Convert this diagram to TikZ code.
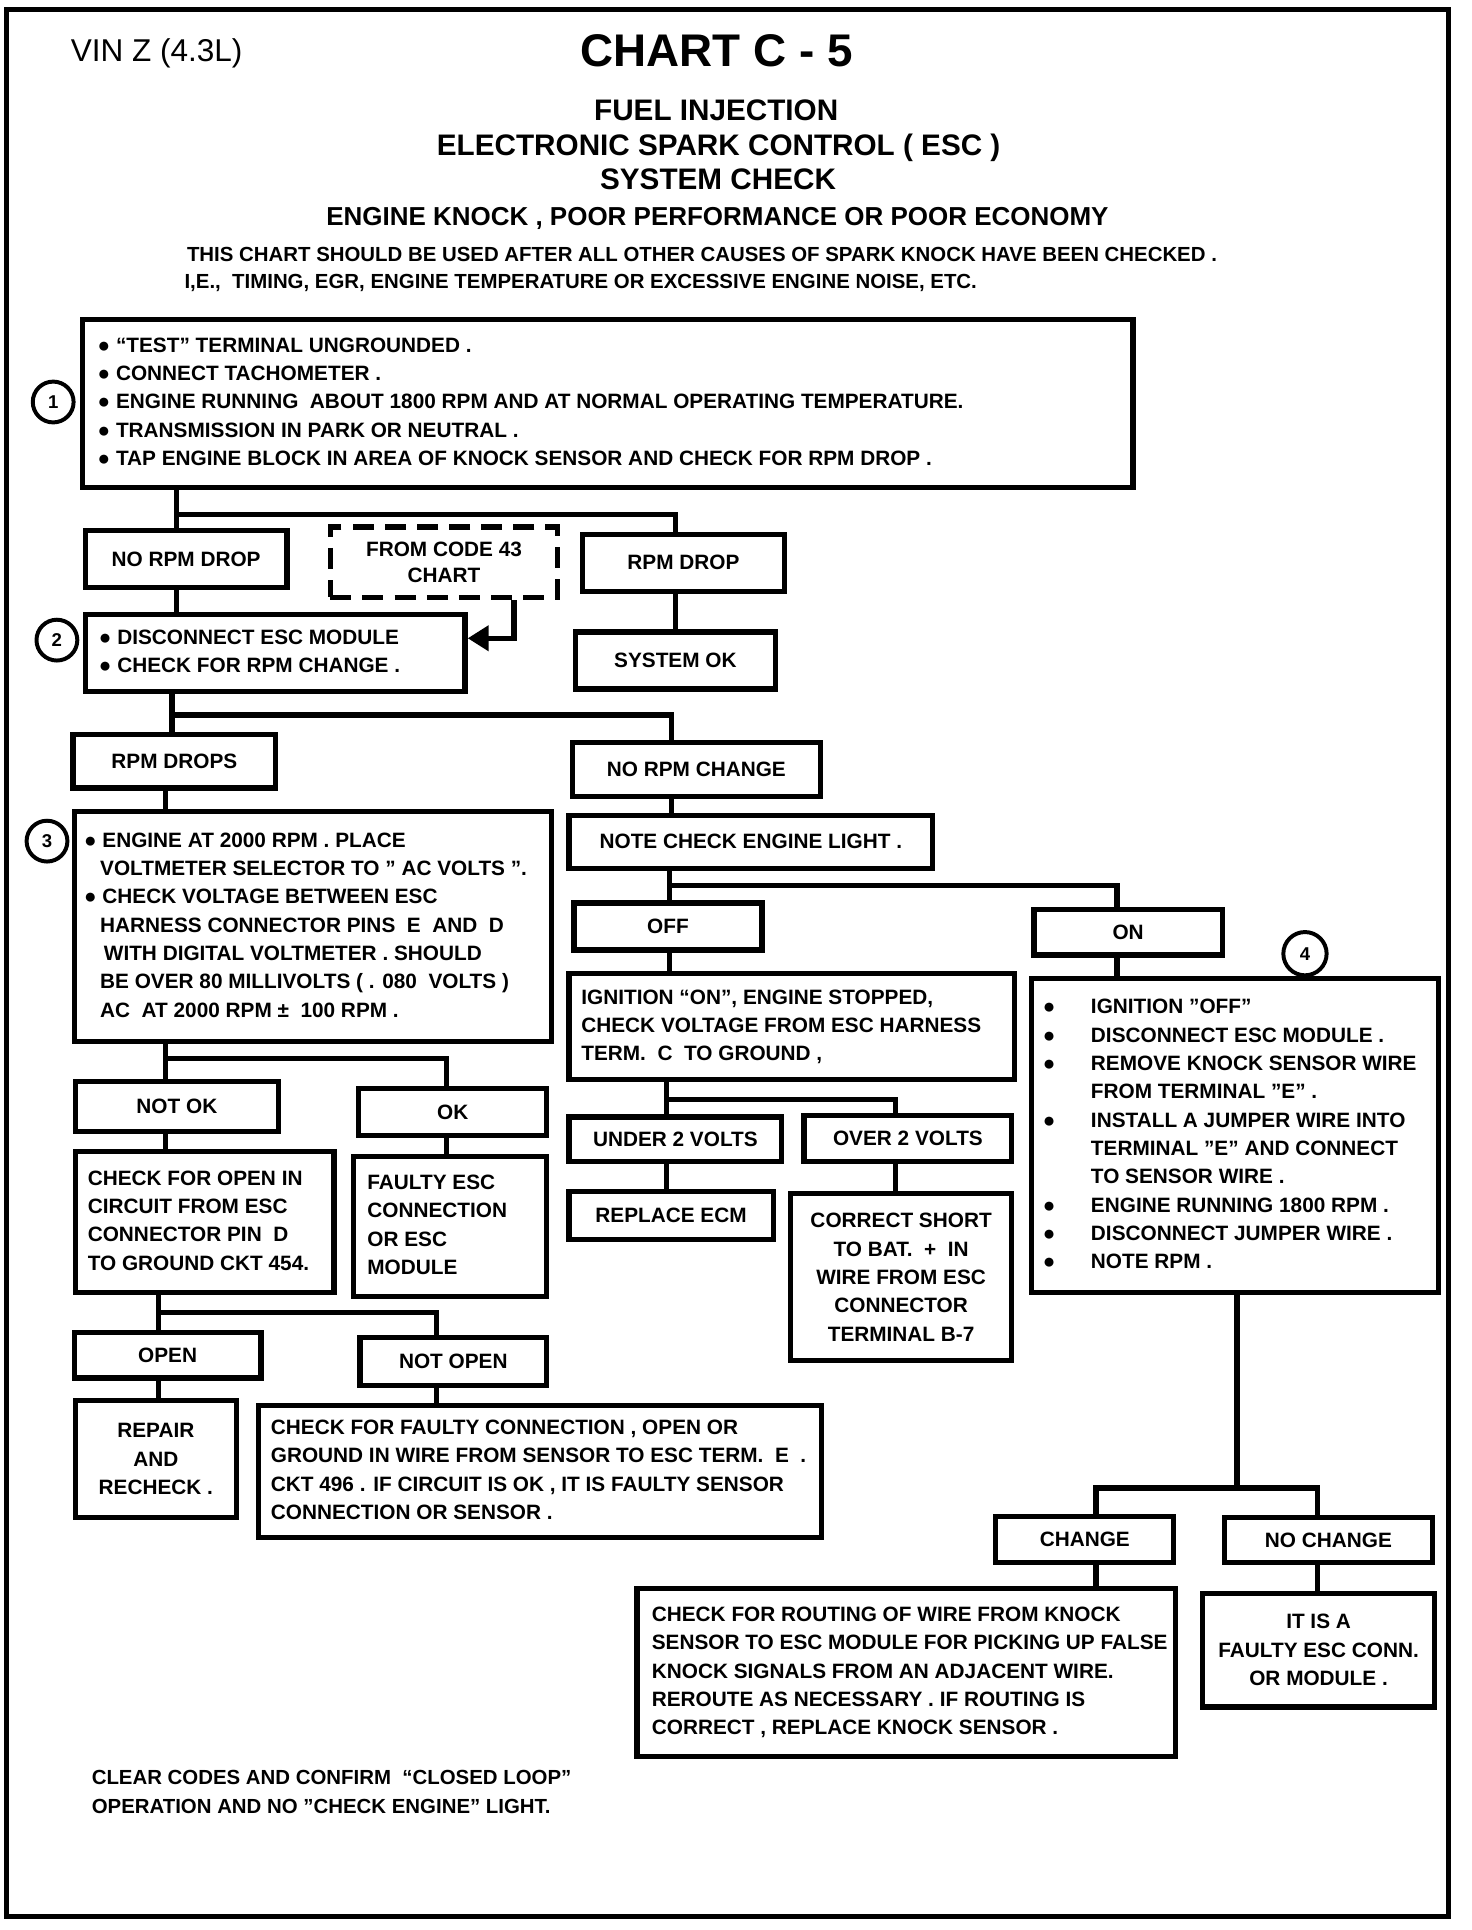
\documentclass[tikz,border=0pt]{standalone}
\usepackage{fontspec}
\setmainfont{Liberation Sans}
\usetikzlibrary{arrows.meta}
\newcommand\bxfont{\bfseries\fontsize{16.8}{22.9}\selectfont}
\newcommand\lbx[3]{\makebox[#1][l]{\hspace*{#2}\begin{tabular}{@{}l@{}}#3\end{tabular}}}
\newcommand\bd{●}
\newcommand\bul{\makebox[39pt][l]{\bd}}
\newcommand\ind{\hspace*{39pt}}
\tikzset{
  bx/.style={draw, line width=4.2pt, inner sep=0pt, font=\bxfont, align=center},
  bxl/.style={draw, line width=4.2pt, inner sep=0pt, font=\bxfont},
  dbx/.style={bx, dash pattern=on 17pt off 9pt},
  conn/.style={line width=4.2pt, line join=miter},
  circ/.style={draw, circle, line width=3.2pt, minimum size=33pt, inner sep=0pt, font=\bfseries\fontsize{15}{15}\selectfont},
  hd/.style={inner sep=0pt, anchor=base, font=\bfseries\fontsize{24}{28}\selectfont},
  sm/.style={inner sep=0pt, anchor=base west, font=\bfseries\fontsize{16.5}{20}\selectfont}
}
\begin{document}
\begin{tikzpicture}[x=1pt,y=-1pt]
\useasboundingbox (0,0) rectangle (1190,1560.3);
\fill[white] (0,0) rectangle (1190,1560.3);
\draw[line width=4pt] (5,8) rectangle (1171,1549);

% titles
\node[inner sep=0pt, anchor=base west, font=\fontsize{25.5}{30}\selectfont] (vin) at (57,50) {VIN Z (4.3L)};
\node[inner sep=0pt, anchor=base, font=\bfseries\fontsize{37}{40}\selectfont] (chart) at (579.5,53.8) {CHART C - 5};
\node[hd] (t1) at (579,97.6) {FUEL INJECTION};
\node[hd] (t2) at (581,125.6) {ELECTRONIC SPARK CONTROL ( ESC )};
\node[hd] (t3) at (580.5,153.6) {SYSTEM CHECK};
\node[hd, font=\bfseries\fontsize{21}{24}\selectfont] (t4) at (580,182.5) {ENGINE KNOCK , POOR PERFORMANCE OR POOR ECONOMY};
\node[sm] (t5) at (151,211.4) {THIS CHART SHOULD BE USED AFTER ALL OTHER CAUSES OF SPARK KNOCK HAVE BEEN CHECKED .};
\node[sm] (t6) at (149,233.4) {I,E., \ TIMING, EGR, ENGINE TEMPERATURE OR EXCESSIVE ENGINE NOISE, ETC.};

% boxes
\node[bxl, minimum width=849pt, minimum height=136pt] (b1) at (491.5,326) {\lbx{849pt}{12pt}{%
\bd\ “TEST” TERMINAL UNGROUNDED .\\
\bd\ CONNECT TACHOMETER .\\
\bd\ ENGINE RUNNING \ ABOUT 1800 RPM AND AT NORMAL OPERATING TEMPERATURE.\\
\bd\ TRANSMISSION IN PARK OR NEUTRAL .\\
\bd\ TAP ENGINE BLOCK IN AREA OF KNOCK SENSOR AND CHECK FOR RPM DROP .}};
\node[circ] (c1) at (43,325) {1};

\node[bx, minimum width=163pt, minimum height=46pt] (nrd) at (150.5,452) {NO RPM DROP};
\node[dbx, minimum width=184pt, minimum height=57pt] (fc43) at (359,454.5) {FROM CODE 43\\[-2pt]CHART};
\node[bx, minimum width=163pt, minimum height=46pt] (rd) at (552.5,455) {RPM DROP};
\node[bx, minimum width=162pt, minimum height=46pt] (sok) at (546,534) {SYSTEM OK};

\node[bxl, minimum width=307pt, minimum height=62pt] (b2) at (222.5,528) {\lbx{307pt}{11pt}{%
\bd\ DISCONNECT ESC MODULE\\
\bd\ CHECK FOR RPM CHANGE .}};
\node[circ] (c2) at (46,517.5) {2};

\node[bx, minimum width=164pt, minimum height=43pt] (rds) at (141,615.5) {RPM DROPS};
\node[bx, minimum width=200pt, minimum height=44pt] (nrc) at (563,622) {NO RPM CHANGE};
\node[bx, minimum width=294pt, minimum height=43pt] (ncel) at (607,680.5) {NOTE CHECK ENGINE LIGHT .};

\node[bxl, minimum width=386pt, minimum height=186pt] (b3) at (253,749) {\lbx{386pt}{8pt}{%
\bd\ ENGINE AT 2000 RPM . PLACE\\
\hspace*{13pt}VOLTMETER SELECTOR TO " AC VOLTS ".\\
\bd\ CHECK VOLTAGE BETWEEN ESC\\
\hspace*{13pt}HARNESS CONNECTOR PINS \ E \ AND \ D\\
\hspace*{16pt}WITH DIGITAL VOLTMETER . SHOULD\\
\hspace*{13pt}BE OVER 80 MILLIVOLTS ( . 080 \ VOLTS )\\
\hspace*{13pt}AC \ AT 2000 RPM ± \ 100 RPM .}};
\node[circ] (c3) at (38,680) {3};

\node[bx, minimum width=152pt, minimum height=38pt] (off) at (540,749) {OFF};
\node[bx, minimum width=152pt, minimum height=37pt] (on) at (912,753.5) {ON};
\node[circ, minimum size=35pt] (c4) at (1055,771) {4};

\node[bxl, minimum width=360pt, minimum height=86pt] (ign) at (640,830) {\lbx{360pt}{10pt}{%
IGNITION “ON”, ENGINE STOPPED,\\
CHECK VOLTAGE FROM ESC HARNESS\\
TERM. \ C \ TO GROUND ,}};

\node[bxl, minimum width=329pt, minimum height=254pt] (b4) at (998.5,918) {\lbx{329pt}{9pt}{%
\bul IGNITION "OFF"\\
\bul DISCONNECT ESC MODULE .\\
\bul REMOVE KNOCK SENSOR WIRE\\
\ind FROM TERMINAL "E" .\\
\bul INSTALL A JUMPER WIRE INTO\\
\ind TERMINAL "E" AND CONNECT\\
\ind TO SENSOR WIRE .\\
\bul ENGINE RUNNING 1800 RPM .\\
\bul DISCONNECT JUMPER WIRE .\\
\bul NOTE RPM .}};

\node[bx, minimum width=172pt, minimum height=36pt] (u2v) at (546,921) {UNDER 2 VOLTS};
\node[bx, minimum width=168pt, minimum height=37pt] (o2v) at (734,920.5) {OVER 2 VOLTS};
\node[bx, minimum width=165pt, minimum height=39pt] (recm) at (542.5,982.5) {REPLACE ECM};
\node[bx, minimum width=179pt, minimum height=135pt] (cs) at (728.5,1032.5) {CORRECT SHORT\\TO BAT. \ + \ IN\\WIRE FROM ESC\\CONNECTOR\\TERMINAL B-7};

\node[bx, minimum width=164pt, minimum height=40.5pt] (nok) at (143,894.75) {NOT OK};
\node[bx, minimum width=152pt, minimum height=38pt] (ok) at (366,899) {OK};
\node[bxl, minimum width=209pt, minimum height=114pt] (cfo) at (165.5,988) {\lbx{209pt}{10pt}{%
CHECK FOR OPEN IN\\
CIRCUIT FROM ESC\\
CONNECTOR PIN \ D\\
TO GROUND CKT 454.}};
\node[bxl, minimum width=156pt, minimum height=113pt] (fesc) at (364,991.5) {\lbx{156pt}{11pt}{%
FAULTY ESC\\
CONNECTION\\
OR ESC\\
MODULE}};

\node[bx, minimum width=151pt, minimum height=37pt] (open) at (135.5,1095.5) {OPEN};
\node[bx, minimum width=151pt, minimum height=39pt] (nopen) at (366.5,1100.5) {NOT OPEN};
\node[bx, minimum width=130pt, minimum height=95pt] (rep) at (126,1179.5) {REPAIR\\AND\\RECHECK .};
\node[bxl, minimum width=455pt, minimum height=107pt] (cfc) at (436.5,1189.5) {\lbx{455pt}{10pt}{%
CHECK FOR FAULTY CONNECTION , OPEN OR\\
GROUND IN WIRE FROM SENSOR TO ESC TERM. \ E \ .\\
CKT 496 . IF CIRCUIT IS OK , IT IS FAULTY SENSOR\\
CONNECTION OR SENSOR .}};

\node[bx, minimum width=144pt, minimum height=37pt] (chg) at (877,1244.5) {CHANGE};
\node[bx, minimum width=168pt, minimum height=36pt] (nchg) at (1074,1245) {NO CHANGE};
\node[bxl, minimum width=435pt, minimum height=136pt] (rout) at (732.5,1352) {\lbx{435pt}{12pt}{%
CHECK FOR ROUTING OF WIRE FROM KNOCK\\
SENSOR TO ESC MODULE FOR PICKING UP FALSE\\
KNOCK SIGNALS FROM AN ADJACENT WIRE.\\
REROUTE AS NECESSARY . IF ROUTING IS\\
CORRECT , REPLACE KNOCK SENSOR .}};
\node[bx, minimum width=188pt, minimum height=92pt] (itis) at (1066,1334) {IT IS A\\FAULTY ESC CONN.\\OR MODULE .};

\node[sm] (f1) at (74,1443) {CLEAR CODES AND CONFIRM \ “CLOSED LOOP”};
\node[sm] (f2) at (74,1466) {OPERATION AND NO "CHECK ENGINE" LIGHT.};

% connectors
\coordinate (j1) at (143,416); \coordinate (j1r) at (546,416);
\draw[conn] (b1.south -| j1) -- (j1) -- (nrd.north -| j1);
\draw[conn] (j1) -- (j1r) -- (rd.north -| j1r);
\draw[conn] (nrd.south -| j1) -- (b2.north -| j1);
\draw[conn] (rd.south -| j1r) -- (sok.north -| j1r);
\coordinate (fa) at (415.5,516);
\draw[conn, -{Triangle[length=17pt,width=20pt]}] (fc43.south -| fa) -- (fa) -- (b2.east |- fa);

\coordinate (j2) at (139,578); \coordinate (j2r) at (543,578);
\draw[conn] (b2.south -| j2) -- (j2) -- (rds.north -| j2);
\draw[conn] (j2) -- (j2r) -- (nrc.north -| j2r);
\draw[conn] (nrc.south -| j2r) -- (ncel.north -| j2r);

\coordinate (j5) at (134,856); \coordinate (j5r) at (361,856);
\draw[conn] (rds.south -| j5) -- (b3.north -| j5);
\draw[conn] (b3.south -| j5) -- (j5) -- (nok.north -| j5);
\draw[conn] (j5) -- (j5r) -- (ok.north -| j5r);
\draw[conn] (nok.south -| j5) -- (cfo.north -| j5);
\draw[conn] (ok.south -| j5r) -- (fesc.north -| j5r);

\coordinate (j6) at (128,1061); \coordinate (j6r) at (353,1061);
\draw[conn] (cfo.south -| j6) -- (j6) -- (open.north -| j6);
\draw[conn] (j6) -- (j6r) -- (nopen.north -| j6r);
\draw[conn] (open.south -| j6) -- (rep.north -| j6);
\draw[conn] (nopen.south -| j6r) -- (cfc.north -| j6r);

\coordinate (j3) at (541,716); \coordinate (j3r) at (903,716);
\draw[conn] (ncel.south -| j3) -- (j3) -- (off.north -| j3);
\draw[conn] (j3) -- (j3r) -- (on.north -| j3r);
\draw[conn] (off.south -| j3) -- (ign.north -| j3);
\draw[conn] (on.south -| j3r) -- (b4.north -| j3r);

\coordinate (j4) at (539,889); \coordinate (j4r) at (724,889);
\draw[conn] (ign.south -| j4) -- (j4) -- (u2v.north -| j4);
\draw[conn] (j4) -- (j4r) -- (o2v.north -| j4r);
\draw[conn] (u2v.south -| j4) -- (recm.north -| j4);
\draw[conn] (o2v.south -| j4r) -- (cs.north -| j4r);

\coordinate (j7) at (1000,1203); \coordinate (j7l) at (886,1203); \coordinate (j7r) at (1065,1203);
\draw[conn] (b4.south -| j7) -- (j7);
\draw[conn] (chg.north -| j7l) -- (j7l) -- (j7r) -- (nchg.north -| j7r);
\draw[conn] (chg.south -| j7l) -- (rout.north -| j7l);
\draw[conn] (nchg.south -| j7r) -- (itis.north -| j7r);
\end{tikzpicture}
\end{document}
